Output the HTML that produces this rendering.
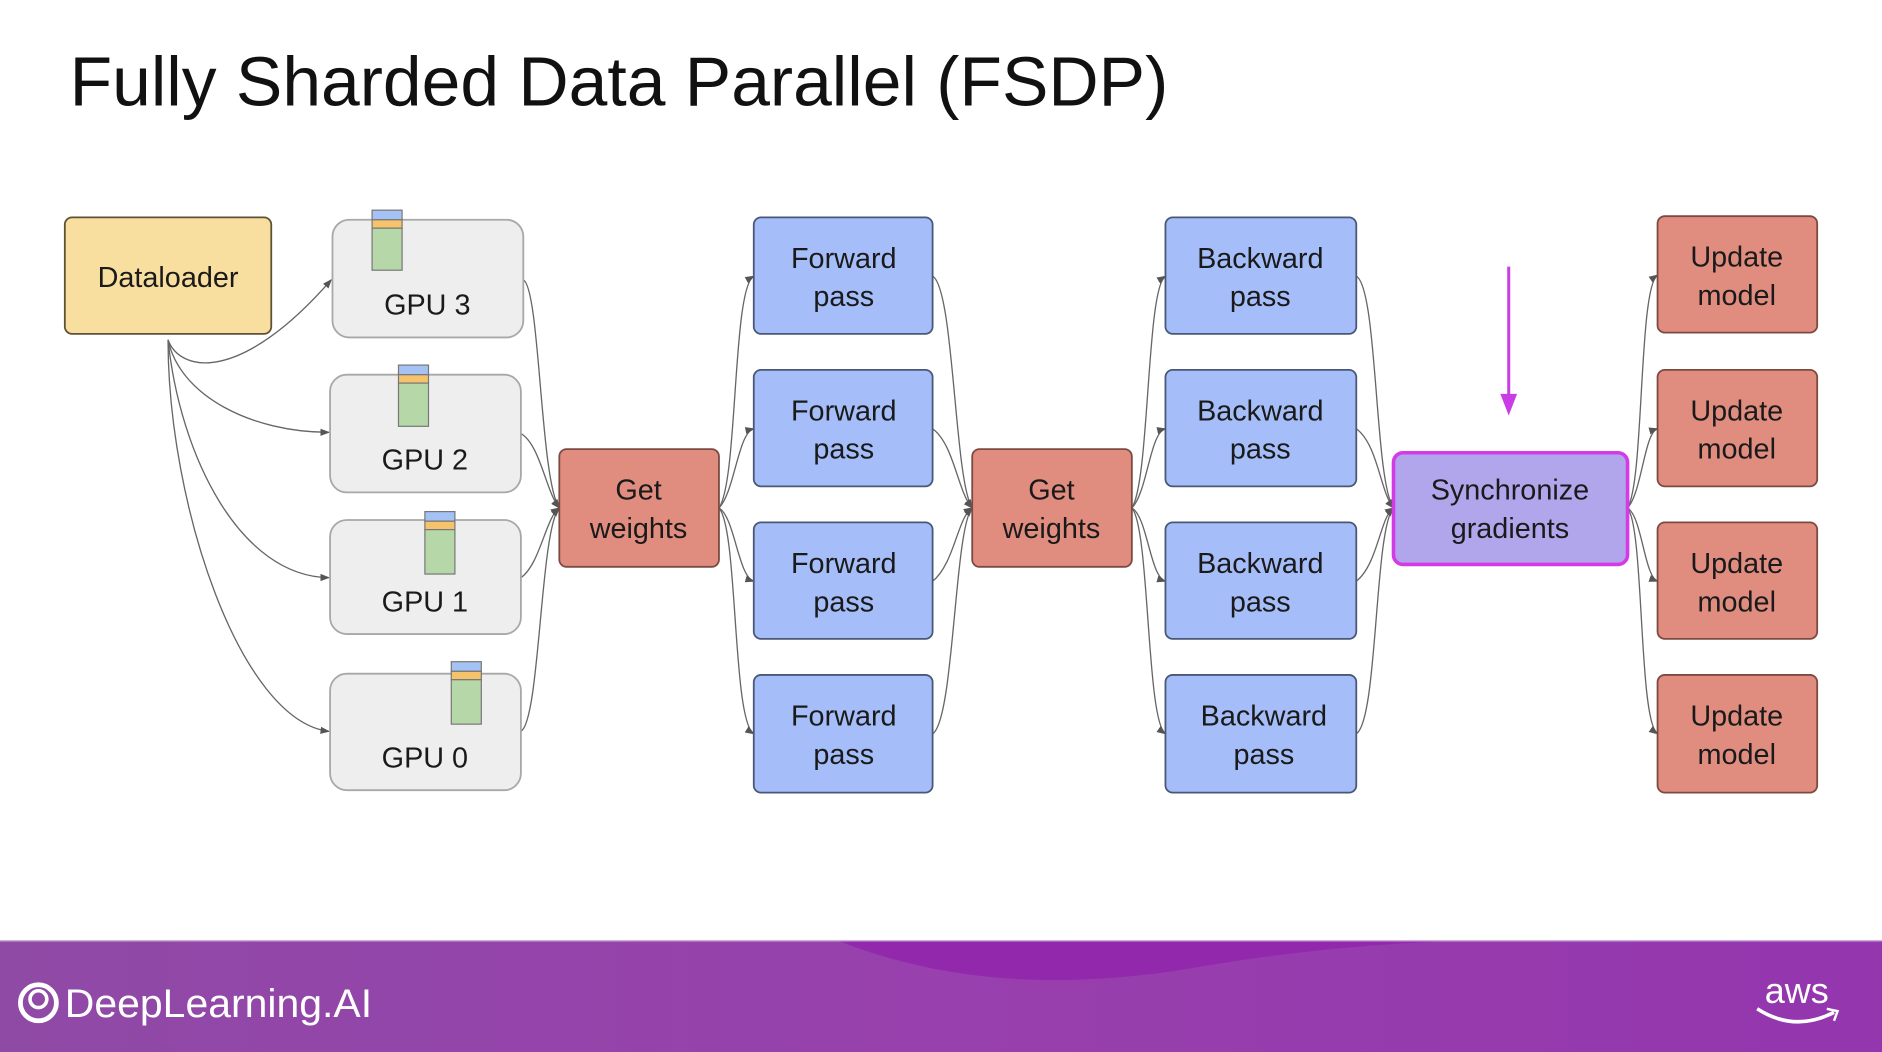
<!DOCTYPE html>
<html><head><meta charset="utf-8"><style>
html,body{margin:0;padding:0;background:#fff;overflow:hidden}
svg{display:block}
text{font-family:"Liberation Sans",sans-serif;fill:#1a1a1a}
</style></head><body>
<svg width="1882" height="1052" viewBox="0 0 1568 876" preserveAspectRatio="none" xmlns="http://www.w3.org/2000/svg">
<defs>
<marker id="a" markerWidth="8" markerHeight="8" refX="7" refY="4" orient="auto" markerUnits="userSpaceOnUse"><path d="M0,1 L8,4 L0,7 Z" fill="#555"/></marker>
<linearGradient id="fg" x1="0" x2="1"><stop offset="0" stop-color="#8f4aa6"/><stop offset="0.5" stop-color="#9840ad"/><stop offset="1" stop-color="#9436ae"/></linearGradient>
</defs>
<text x="58" y="88" font-size="58" style="fill:#111">Fully Sharded Data Parallel (FSDP)</text>

<g fill="none" stroke="#666" stroke-width="1.1" marker-end="url(#a)">
<path d="M140 283 C150 310,200 320,276 233"/>
<path d="M140 283 C150 330,210 360,274 360"/>
<path d="M140 283 C150 380,200 480,274 481"/>
<path d="M140 283 C140 420,200 600,274 609"/>
<path d="M436 233 C450 240,450 400,466 423"/>
<path d="M434 361 C450 370,455 410,466 423"/>
<path d="M434 481 C450 470,455 430,466 423"/>
<path d="M434 609 C450 600,450 440,466 423"/>
<path d="M599 423 C615 400,610 240,628 230"/>
<path d="M599 423 C612 410,615 360,628 357"/>
<path d="M599 423 C612 430,615 480,628 484"/>
<path d="M599 423 C615 440,610 600,628 611"/>
<path d="M777 230 C795 240,795 400,810 423"/>
<path d="M777 357 C795 370,798 410,810 423"/>
<path d="M777 484 C795 470,798 430,810 423"/>
<path d="M777 611 C795 600,795 440,810 423"/>
<path d="M943 423 C958 400,955 240,971 230"/>
<path d="M943 423 C956 410,958 360,971 357"/>
<path d="M943 423 C956 430,958 480,971 484"/>
<path d="M943 423 C958 440,955 600,971 611"/>
<path d="M1130 230 C1148 240,1145 400,1161 423"/>
<path d="M1130 357 C1148 370,1150 410,1161 423"/>
<path d="M1130 484 C1148 470,1150 430,1161 423"/>
<path d="M1130 611 C1148 600,1145 440,1161 423"/>
<path d="M1356 423 C1370 400,1365 240,1381 229"/>
<path d="M1356 423 C1368 410,1370 360,1381 357"/>
<path d="M1356 423 C1368 430,1370 480,1381 484"/>
<path d="M1356 423 C1370 440,1365 600,1381 611"/>
</g>

<rect x="54" y="181" width="172" height="97" rx="6" fill="#f8df9f" stroke="#5e5236" stroke-width="1.5"/>
<text x="140" y="239" font-size="24" text-anchor="middle">Dataloader</text>

<g fill="#eeeeee" stroke="#a8a8a8" stroke-width="1.5">
<rect x="277" y="183" width="159" height="98" rx="14"/>
<rect x="275" y="312" width="159" height="98" rx="14"/>
<rect x="275" y="433" width="159" height="95" rx="14"/>
<rect x="275" y="561" width="159" height="97" rx="14"/>
</g>
<g font-size="24" text-anchor="middle">
<text x="356" y="262">GPU 3</text><text x="354" y="391">GPU 2</text><text x="354" y="509">GPU 1</text><text x="354" y="639">GPU 0</text>
</g>
<g stroke="#777" stroke-width="1">
<rect x="310" y="175" width="25" height="8" fill="#a4c2f4"/><rect x="310" y="183" width="25" height="7" fill="#f6c26b"/><rect x="310" y="190" width="25" height="35" fill="#b6d7a8"/>
<rect x="332" y="304" width="25" height="8" fill="#a4c2f4"/><rect x="332" y="312" width="25" height="7" fill="#f6c26b"/><rect x="332" y="319" width="25" height="36" fill="#b6d7a8"/>
<rect x="354" y="426" width="25" height="8" fill="#a4c2f4"/><rect x="354" y="434" width="25" height="7" fill="#f6c26b"/><rect x="354" y="441" width="25" height="37" fill="#b6d7a8"/>
<rect x="376" y="551" width="25" height="8" fill="#a4c2f4"/><rect x="376" y="559" width="25" height="7" fill="#f6c26b"/><rect x="376" y="566" width="25" height="37" fill="#b6d7a8"/>
</g>

<g fill="#e08d80" stroke="#7c4a40" stroke-width="1.5">
<rect x="466" y="374" width="133" height="98" rx="6"/>
<rect x="810" y="374" width="133" height="98" rx="6"/>
<rect x="1381" y="180" width="133" height="97" rx="6"/>
<rect x="1381" y="308" width="133" height="97" rx="6"/>
<rect x="1381" y="435" width="133" height="97" rx="6"/>
<rect x="1381" y="562" width="133" height="98" rx="6"/>
</g>
<g fill="#a5bdf8" stroke="#4a5878" stroke-width="1.5">
<rect x="628" y="181" width="149" height="97" rx="6"/>
<rect x="628" y="308" width="149" height="97" rx="6"/>
<rect x="628" y="435" width="149" height="97" rx="6"/>
<rect x="628" y="562" width="149" height="98" rx="6"/>
<rect x="971" y="181" width="159" height="97" rx="6"/>
<rect x="971" y="308" width="159" height="97" rx="6"/>
<rect x="971" y="435" width="159" height="97" rx="6"/>
<rect x="971" y="562" width="159" height="98" rx="6"/>
</g>
<rect x="1161" y="377" width="195" height="93" rx="8" fill="#b1a5ec" stroke="#d43ae6" stroke-width="3"/>
<line x1="1257" y1="222" x2="1257" y2="330" stroke="#c93de6" stroke-width="2.5"/>
<path d="M1250 328 L1264 328 L1257 346 Z" fill="#c93de6"/>

<g font-size="24" text-anchor="middle">
<text x="532" y="416">Get</text><text x="532" y="448">weights</text>
<text x="876" y="416">Get</text><text x="876" y="448">weights</text>
<text x="703" y="223">Forward</text><text x="703" y="255">pass</text>
<text x="703" y="350">Forward</text><text x="703" y="382">pass</text>
<text x="703" y="477">Forward</text><text x="703" y="509">pass</text>
<text x="703" y="604">Forward</text><text x="703" y="636">pass</text>
<text x="1050" y="223">Backward</text><text x="1050" y="255">pass</text>
<text x="1050" y="350">Backward</text><text x="1050" y="382">pass</text>
<text x="1050" y="477">Backward</text><text x="1050" y="509">pass</text>
<text x="1053" y="604">Backward</text><text x="1053" y="636">pass</text>
<text x="1258" y="416">Synchronize</text><text x="1258" y="448">gradients</text>
<text x="1447" y="222">Update</text><text x="1447" y="254">model</text>
<text x="1447" y="350">Update</text><text x="1447" y="382">model</text>
<text x="1447" y="477">Update</text><text x="1447" y="509">model</text>
<text x="1447" y="604">Update</text><text x="1447" y="636">model</text>
</g>

<rect x="0" y="783" width="1568" height="93" fill="url(#fg)"/>
<line x1="0" y1="783.5" x2="1568" y2="783.5" stroke="#c9a6d6" stroke-width="1"/>
<path d="M700 784 Q830 835 1000 805 Q1100 788 1200 784 Z" fill="#9229ac"/>
<circle cx="32" cy="835" r="15" fill="none" stroke="#fff" stroke-width="4"/>
<circle cx="32" cy="832" r="7" fill="none" stroke="#fff" stroke-width="3"/>
<text x="54" y="847" font-size="33" textLength="256" lengthAdjust="spacingAndGlyphs" style="fill:#fff">DeepLearning.AI</text>
<text x="1497" y="835" font-size="30" text-anchor="middle" style="fill:#fff">aws</text>
<path d="M1464 840 Q1495 860 1528 843" fill="none" stroke="#fff" stroke-width="3"/>
<path d="M1522 840 L1531 842 L1528 850" fill="none" stroke="#fff" stroke-width="2"/>
</svg>
</body></html>
